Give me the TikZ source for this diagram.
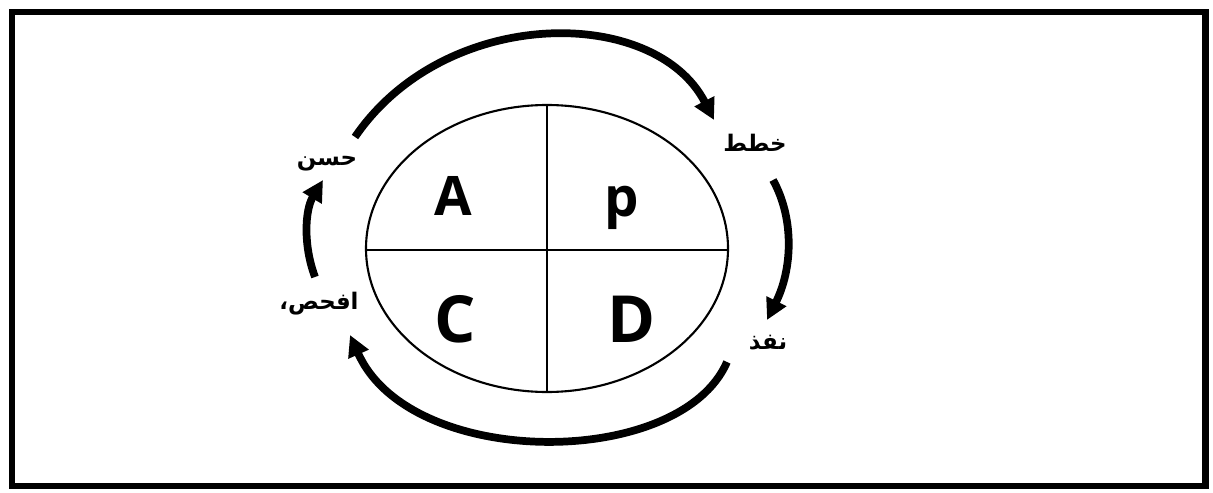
\documentclass[tikz,border=0pt]{standalone}
\usepackage{fontspec}
\setmainfont{Open Sans}
\newfontfamily\arabicfont[Script=Arabic]{DejaVu Sans}
\TeXXeTstate=1
\usetikzlibrary{arrows.meta}

\tikzset{
  cyclearrow/.style={line width=4.4pt, -{Triangle[length=12pt,width=12pt]}},
  steplabel/.style={font=\arabicfont\bfseries\fontsize{13}{15}\selectfont},
  bigletter/.style={font=\bfseries\fontsize{31}{36}\selectfont, anchor=base, inner sep=0pt},
  biggerletter/.style={font=\bfseries\fontsize{37}{42}\selectfont, anchor=base, inner sep=0pt},
}

\begin{document}
\begin{tikzpicture}[x=0.02cm, y=-0.02cm]
        \useasboundingbox (0,0) rectangle (1213,493);
        \draw[line width=3.6pt] (12,12) rectangle (1205.5,486);

        % the circle of four parts
        \draw[line width=1.2pt] (547,248.5) ellipse (181 and 143.5);
        \draw[line width=1.2pt] (547,105) -- (547,392);
        \draw[line width=1.2pt] (366,250) -- (728,250);

        \node[bigletter] (act) at (453,215) {A};
        \node[bigletter] (plan) at (622,216) {p};
        \node[biggerletter] (check) at (455,342) {C};
        \node[biggerletter] (do) at (632,342) {D};

        % labels
        \node[steplabel] (improve) at (327,164) {\beginR حسن\endR};
        \node[steplabel] (planlbl) at (755,143) {\beginR خطط\endR};
        \node[steplabel] (dolbl) at (768,343) {\beginR نفذ\endR};
        \node[steplabel] (checklbl) at (319,304) {\beginR افحص،\endR};

        % arrows
        \coordinate (topstart) at (355,137);
        \coordinate (topend) at (714,120);
        \coordinate (rightstart) at (773,180);
        \coordinate (rightend) at (767,320);
        \coordinate (botstart) at (727,362);
        \coordinate (botend) at (350,335);
        \coordinate (leftstart) at (315,277);
        \coordinate (leftend) at (323,180);

        \draw[cyclearrow] (topstart) .. controls (445,5) and (655,5) .. (topend);
        \draw[cyclearrow] (rightstart) .. controls (795,220) and (792,270) .. (rightend);
        \draw[cyclearrow] (botstart) .. controls (680,470) and (410,470) .. (botend);
        \draw[cyclearrow] (leftstart) .. controls (303,245) and (305,210) .. (leftend);
\end{tikzpicture}
\end{document}
